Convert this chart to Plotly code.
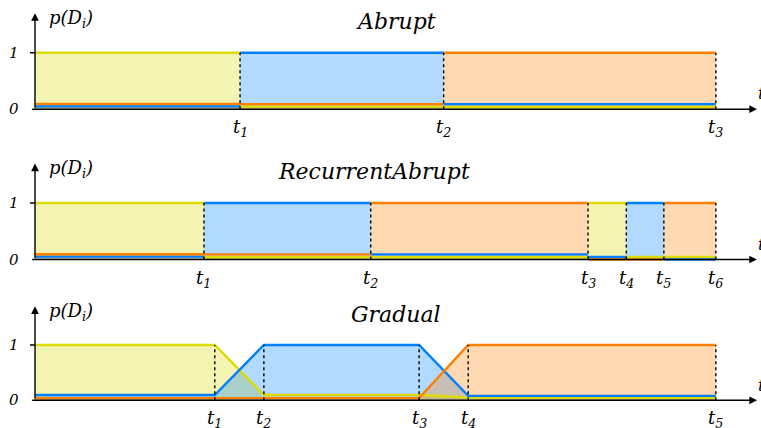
import plotly.graph_objects as go

# time breakpoints on a 0..100 axis, and p(D_i) level of each concept
abrupt_t = [0, 28.4, 56.6, 94.3]
abrupt_yellow = [1, 0.045, 0.04]
abrupt_blue = [0.05, 1, 0.09]
abrupt_orange = [0.095, 0.09, 1]

recurrent_t = [0, 23.4, 46.5, 76.6, 81.9, 87.1, 94.3]
recurrent_yellow = [1, 0.04, 0.04, 1, 0.045, 0.045]
recurrent_blue = [0.05, 1, 0.09, 0.045, 1, 0.0]
recurrent_orange = [0.092, 0.09, 1, 0.0, 0.0, 1]

gradual_t = [0, 24.9, 31.7, 53.2, 60.0, 94.3]
gradual_yellow = [1, 1, 0.095, 0.095, 0.05, 0.045]
gradual_blue = [0.095, 0.095, 1, 1, 0.08, 0.08]
gradual_orange = [0.04, 0.04, 0.04, 0.04, 1, 1]

titles = ["Abrupt", "RecurrentAbrupt", "Gradual"]

W, H = 761, 428
FONT = "DejaVu Serif"
colors = {"yellow": (220, 220, 0), "blue": (0, 128, 255), "orange": (255, 128, 0)}


def rgb(c, a=None):
    if a is None:
        return "rgb(%d,%d,%d)" % c
    return "rgba(%d,%d,%d,%s)" % (c[0], c[1], c[2], a)


def step_fill(t, lv):
    xs, ys = [], []
    for i in range(len(lv)):
        xs += [t[i], t[i + 1]]
        ys += [lv[i], lv[i]]
    return xs, ys


def step_line(t, lv):
    xs, ys = [], []
    for i in range(len(lv)):
        xs += [t[i], t[i + 1], None]
        ys += [lv[i], lv[i], None]
    return xs, ys


def italic(size):
    return dict(family=FONT, size=size, style="italic", color="black")


# (times, series, stepped?, zero pixel row, pixels per unit, title x)
panels = [
    (abrupt_t, {"yellow": abrupt_yellow, "blue": abrupt_blue, "orange": abrupt_orange}, True, 109.2, 56.5, 50),
    (recurrent_t, {"yellow": recurrent_yellow, "blue": recurrent_blue, "orange": recurrent_orange}, True, 259.5, 56.5, 47),
    (gradual_t, {"yellow": gradual_yellow, "blue": gradual_blue, "orange": gradual_orange}, False, 400.3, 55.3, 50),
]

fig = go.Figure()
shapes = []
annotations = []
layout_axes = {}
# x=0 sits at pixel 35, x=100 at pixel 757
px_per_x = (757 - 35) / 100
x_range = [-35 / px_per_x, (W - 35) / px_per_x]
y_lo, y_hi = -0.3, 1.9

for k, (t, series, stepped, zero_px, unit, title_x) in enumerate(panels):
    n = "" if k == 0 else str(k + 1)
    xa, ya = "x" + n, "y" + n
    bottom = zero_px - y_lo * unit
    top = zero_px - y_hi * unit
    layout_axes["xaxis" + n] = dict(domain=[0, 1], range=x_range, visible=False, anchor=ya)
    layout_axes["yaxis" + n] = dict(domain=[1 - bottom / H, 1 - top / H], range=[y_lo, y_hi],
                                    visible=False, anchor=xa)

    # fills first, then the lines on top of all of them
    line_traces = []
    for name in ["yellow", "blue", "orange"]:
        c = colors[name]
        lv = series[name]
        if stepped:
            fx, fy = step_fill(t, lv)
            lx, ly = step_line(t, lv)
        else:
            fx, fy = t, lv
            lx, ly = t, lv
        fig.add_trace(go.Scatter(x=fx, y=fy, xaxis=xa, yaxis=ya, mode="lines", fill="tozeroy",
                                 fillcolor=rgb(c, 0.3), line=dict(width=0), hoverinfo="skip"))
        line_traces.append(go.Scatter(x=lx, y=ly, xaxis=xa, yaxis=ya, mode="lines",
                                      line=dict(color=rgb(c), width=2.4), connectgaps=False,
                                      hoverinfo="skip"))
    for tr in line_traces:
        fig.add_trace(tr)

    # dashed change points and their labels
    for i, tv in enumerate(t[1:]):
        shapes.append(dict(type="line", xref=xa, yref=ya, x0=tv, x1=tv, y0=0, y1=1,
                           line=dict(color="black", width=1.4, dash="dot")))
        annotations.append(dict(x=tv, y=0, xref=xa, yref=ya, text="t<sub>%d</sub>" % (i + 1),
                                showarrow=False, yanchor="top", yshift=-5, font=italic(18)))

    # axes with arrows
    annotations.append(dict(x=100, y=0, ax=-0.6, ay=0, xref=xa, yref=ya, axref=xa, ayref=ya,
                            text="", showarrow=True, arrowhead=2, arrowsize=1.1, arrowwidth=1.4,
                            arrowcolor="black"))
    annotations.append(dict(x=0, y=1.7, ax=0, ay=0, xref=xa, yref=ya, axref=xa, ayref=ya,
                            text="", showarrow=True, arrowhead=2, arrowsize=1.1, arrowwidth=1.4,
                            arrowcolor="black"))
    shapes.append(dict(type="line", xref=xa, yref=ya, x0=-0.7, x1=0, y0=1, y1=1,
                       line=dict(color="black", width=1.6)))

    for val in [0, 1]:
        annotations.append(dict(x=-1.9, y=val, xref=xa, yref=ya, text=str(val), showarrow=False,
                                xanchor="right", font=italic(15)))
    annotations.append(dict(x=1.6, y=1.6, xref=xa, yref=ya, text="p(D<sub>i</sub>)",
                            showarrow=False, xanchor="left", font=italic(18)))
    annotations.append(dict(x=756 / W, y=0.28, xref="paper", yref=ya, text="t", showarrow=False,
                            xanchor="left", font=italic(17)))
    annotations.append(dict(x=title_x, y=1.55, xref=xa, yref=ya, text=titles[k], showarrow=False,
                            font=italic(22)))

fig.update_layout(
    width=W, height=H,
    margin=dict(l=0, r=0, t=0, b=0),
    plot_bgcolor="white", paper_bgcolor="white",
    showlegend=False,
    shapes=shapes,
    annotations=annotations,
    **layout_axes)

fig.write_html("out.html", config={"displayModeBar": False},
               post_script="document.body.style.margin='0';")
